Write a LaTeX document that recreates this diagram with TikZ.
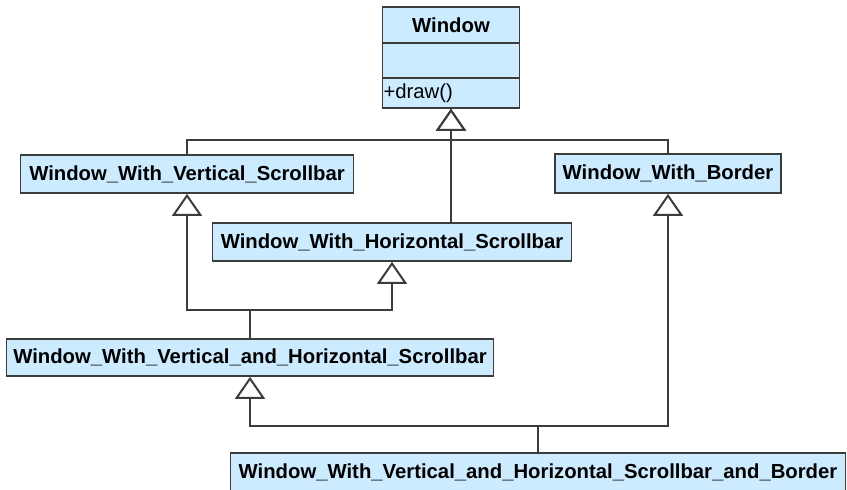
\documentclass[tikz,border=0pt]{standalone}
\usepackage{fontspec}
\setmainfont{Liberation Sans}
\usepackage{xcolor}
\usepackage{tikz}
\usetikzlibrary{arrows.meta,calc}

\definecolor{classfill}{RGB}{204,235,255}
\definecolor{classline}{RGB}{60,60,60}

\begin{document}
\begin{tikzpicture}[x=1pt, y=-1pt,
    class/.style={draw=classline, fill=classfill, line width=1.7pt, rectangle,
        inner sep=1pt, font=\fontsize{20.3}{24}\selectfont\bfseries},
    gen/.style={draw=classline, line width=2pt,
        -{Triangle[open, length=22pt, width=30pt, fill=white]}}]
    \useasboundingbox (0,0) rectangle (847,490);

    % Window class (three compartments)
    \node[class, minimum width=137pt, minimum height=36pt] (wtitle) at (451,25) {Window};
    \node[class, minimum width=137pt, minimum height=35pt] (wattr) at (451,60.5) {};
    \node[class, minimum width=137pt, minimum height=30pt, text width=135pt, align=left,
        font=\fontsize{20.3}{24}\selectfont] (wops) at (451,93) {+draw()};

    % Subclasses
    \node[class, minimum width=333pt, minimum height=38pt] (vscroll) at (187,174) {Window\_With\_Vertical\_Scrollbar};
    \node[class, minimum width=226pt, minimum height=39pt] (border) at (668,173.5) {Window\_With\_Border};
    \node[class, minimum width=359pt, minimum height=38pt] (hscroll) at (392,242) {Window\_With\_Horizontal\_Scrollbar};
    \node[class, minimum width=487pt, minimum height=37pt] (vhscroll) at (250,357.5) {Window\_With\_Vertical\_and\_Horizontal\_Scrollbar};
    \node[class, minimum width=615pt, minimum height=38pt] (vhborder) at (538,472) {Window\_With\_Vertical\_and\_Horizontal\_Scrollbar\_and\_Border};

    % Bus levels
    \coordinate (topbus) at (0,140);
    \coordinate (midbus) at (0,310);
    \coordinate (lowbus) at (0,426);

    % Generalizations to Window
    \draw[gen] (vscroll.north) |- (wops.south |- topbus) -- (wops.south);
    \draw[gen] (border.north) |- (wops.south |- topbus) -- (wops.south);
    \draw[gen] (hscroll.north -| wops.south) -- (wops.south);

    % Generalizations of the combined scrollbar class
    \draw[gen] (vhscroll.north) |- (vscroll.south |- midbus) -- (vscroll.south);
    \draw[gen] (vhscroll.north) |- (hscroll.south |- midbus) -- (hscroll.south);

    % Generalizations of the bordered combined class
    \draw[gen] (vhborder.north) |- (vhscroll.south |- lowbus) -- (vhscroll.south);
    \draw[gen] (vhborder.north) |- (border.south |- lowbus) -- (border.south);
\end{tikzpicture}
\end{document}
